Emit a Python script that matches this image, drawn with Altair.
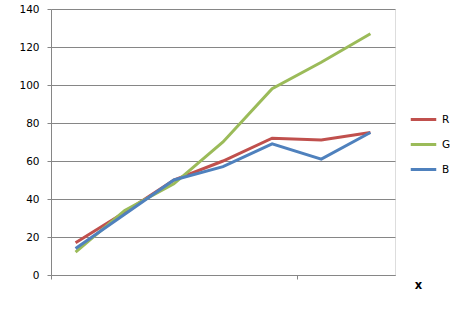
import altair as alt
import pandas as pd

categories = [1, 2, 3, 4, 5, 6, 7]
series_names = ["R", "G", "B"]
R = [17, 33, 50, 60, 72, 71, 75]
G = [12, 34, 48, 70, 98, 112, 127]
B = [14, 32, 50, 57, 69, 61, 75]
colors = ["#C0504D", "#9BBB59", "#4F81BD"]

rows = []
for name, vals in zip(series_names, [R, G, B]):
    for c, v in zip(categories, vals):
        rows.append({"pos": c - 0.5, "value": v, "series": name})
df = pd.DataFrame(rows)

FONT = "DejaVu Sans"
GRID = "#868686"

chart = alt.Chart(df).mark_line(strokeWidth=3, strokeJoin="miter").encode(
    x=alt.X("pos:Q", scale=alt.Scale(domain=[0, 7], nice=False, zero=False),
            axis=alt.Axis(values=[0, 5], labels=False, grid=False, tickSize=4,
                          tickColor=GRID, domainColor=GRID, title="x",
                          titleFont=FONT, titleFontSize=11.5, titleFontWeight="bold",
                          titleColor="black", titleX=367, titleY=10,
                          titleAlign="center", titleBaseline="middle")),
    y=alt.Y("value:Q", scale=alt.Scale(domain=[0, 140], nice=False),
            axis=alt.Axis(values=[0, 20, 40, 60, 80, 100, 120, 140], grid=True,
                          gridColor=GRID, gridOpacity=1, tickSize=4, tickColor=GRID,
                          domainColor=GRID, labelFont=FONT, labelFontSize=10.5,
                          labelColor="black", labelPadding=8, title=None)),
    color=alt.Color("series:N", scale=alt.Scale(domain=series_names, range=colors),
                    legend=alt.Legend(title=None, orient="none", legendX=358, legendY=96,
                                      symbolType="stroke", symbolStrokeWidth=3,
                                      symbolSize=650, rowPadding=4,
                                      labelFont=FONT, labelFontSize=10.5,
                                      labelColor="black", labelOffset=4)),
).properties(
    width=344, height=266,
    autosize=alt.AutoSizeParams(type="none"),
    padding={"left": 51, "top": 9, "right": 79, "bottom": 39},
).configure_view(stroke=None).configure(background="white")

chart.save("out.html", embed_options={"renderer": "svg", "actions": False})
